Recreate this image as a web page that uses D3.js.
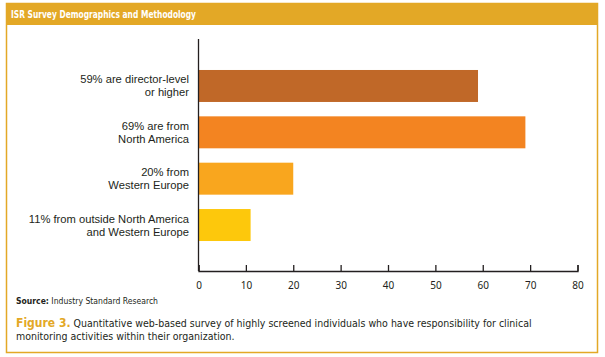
<!DOCTYPE html>
<html>
<head>
<meta charset="utf-8">
<script src="https://cdn.jsdelivr.net/npm/d3@7"></script>
<style>
  html, body { margin: 0; padding: 0; background: #fff; }
  svg { display: block; }
</style>
</head>
<body>
<svg id="chart" width="605" height="357"></svg>
<script>
// ---- data ----
const categories = [
  ["59% are director-level", "or higher"],
  ["69% are from ", "North America"],
  ["20% from", "Western Europe"],
  ["11% from outside North America", "and Western Europe"]
];
const values = [59, 69, 20, 11];
const barColors = ["#C06828", "#F38421", "#F9A61E", "#FDC80C"];
const xTicks = [0, 10, 20, 30, 40, 50, 60, 70, 80];
const title = "ISR Survey Demographics and Methodology";
const sourceLabel = "Source:";
const sourceText = " Industry Standard Research";
const figLabel = "Figure 3.";
const captionLines = [
  " Quantitative web-based survey of highly screened individuals who have responsibility for clinical",
  "monitoring activities within their organization."
];

const gold = "#E3A826";
const ink = "#231F20";
const svg = d3.select("#chart");

// frame
svg.append("rect").attr("x", 6.5).attr("y", 3.5).attr("width", 591).attr("height", 349)
  .attr("fill", "#fff").attr("stroke", gold).attr("stroke-width", 1.5);
svg.append("rect").attr("x", 6).attr("y", 3).attr("width", 592).attr("height", 22)
  .attr("fill", gold);
svg.append("text").attr("x", 11).attr("y", 17.5)
  .attr("fill", "#fff").attr("font-weight", "bold")
  .attr("font-family", "'DejaVu Sans Condensed', 'Liberation Sans', sans-serif")
  .attr("font-stretch", "condensed")
  .attr("font-size", 11)
  .attr("textLength", 185).attr("lengthAdjust", "spacingAndGlyphs")
  .text(title);

// scales
const x = d3.scaleLinear().domain([0, 80]).range([198.5, 577.5]);
const y = d3.scaleBand().domain(d3.range(categories.length))
  .range([62.8, 248.2]).paddingInner(0.31).paddingOuter(0.155);

const g = svg.append("g");

g.selectAll("rect.bar").data(values).join("rect")
  .attr("class", "bar")
  .attr("x", x(0))
  .attr("y", (d, i) => y(i))
  .attr("width", d => x(d) - x(0))
  .attr("height", y.bandwidth())
  .attr("fill", (d, i) => barColors[i]);

// x axis
const xAxis = d3.axisBottom(x).tickValues(xTicks).tickSizeInner(-6).tickSizeOuter(-6).tickPadding(11);
const ax = g.append("g").attr("transform", "translate(0,271)").call(xAxis);
ax.select(".domain").attr("stroke", ink).attr("stroke-width", 1.3);
ax.selectAll(".tick line").attr("stroke", ink).attr("stroke-width", 1.3);
ax.selectAll(".tick text").attr("fill", ink)
  .attr("font-family", "'Noto Sans', 'Open Sans', sans-serif").attr("font-size", 10);

// y axis line
g.append("line").attr("x1", x(0)).attr("x2", x(0)).attr("y1", 39).attr("y2", 271)
  .attr("stroke", ink).attr("stroke-width", 1.3);

// category labels (one text per line)
categories.forEach((lines, i) => {
  const cy = y(i) + y.bandwidth() / 2;
  lines.forEach((line, j) => {
    g.append("text")
      .attr("class", "cat")
      .attr("text-anchor", "end")
      .attr("fill", ink)
      .attr("font-family", "'Liberation Sans', Arial, sans-serif")
      .attr("font-size", 11.2)
      .attr("x", 189)
      .attr("y", cy - 6.5 + j * 13 + 4)
      .text(line);
  });
});

// source
const src = svg.append("text").attr("x", 16).attr("y", 304)
  .attr("fill", ink)
  .attr("font-family", "'DejaVu Sans Condensed', 'Liberation Sans', sans-serif")
  .attr("font-size", 8)
  .attr("textLength", 142).attr("lengthAdjust", "spacingAndGlyphs");
src.append("tspan").attr("font-weight", "bold").text(sourceLabel);
src.append("tspan").text(sourceText);

// caption
const capFont = "'DejaVu Sans Condensed', 'Liberation Sans', sans-serif";
const l1 = svg.append("text").attr("x", 16).attr("y", 327).attr("fill", ink)
  .attr("font-family", capFont).attr("font-size", 10.5);
l1.append("tspan").attr("fill", gold).attr("font-weight", "bold").attr("font-size", 12).text(figLabel);
l1.append("tspan").text(captionLines[0]);
svg.append("text").attr("x", 16).attr("y", 339.5).attr("fill", ink)
  .attr("font-family", capFont).attr("font-size", 10.5)
  .text(captionLines[1]);
</script>
</body>
</html>
